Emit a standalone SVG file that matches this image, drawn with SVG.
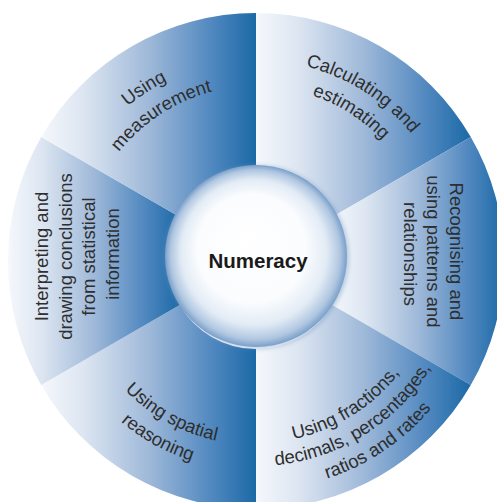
<svg xmlns="http://www.w3.org/2000/svg" width="497" height="502" viewBox="0 0 497 502">
  <defs>
    <!-- shared left-to-right shading used by every segment of the ring -->
    <linearGradient id="segFill" x1="0" y1="0" x2="1" y2="0">
      <stop offset="0" stop-color="#f5f8fc"/>
      <stop offset="0.2" stop-color="#dce5f1"/>
      <stop offset="0.5" stop-color="#9fb9d9"/>
      <stop offset="0.8" stop-color="#4f87bf"/>
      <stop offset="1" stop-color="#1b69a6"/>
    </linearGradient>
    <!-- glossy hub -->
    <radialGradient id="hubFill" cx="0.5" cy="0.5" r="0.5" fx="0.44" fy="0.4">
      <stop offset="0" stop-color="#ffffff"/>
      <stop offset="0.6" stop-color="#fafcfe"/>
      <stop offset="0.8" stop-color="#e2ebf5"/>
      <stop offset="0.93" stop-color="#b0c7e1"/>
      <stop offset="1" stop-color="#7a9fc9"/>
    </radialGradient>
    <filter id="hubGlow" x="-20%" y="-20%" width="140%" height="140%">
      <feGaussianBlur stdDeviation="2"/>
    </filter>
    <!-- arcs for curved labels; upper arcs run clockwise, lower arcs anticlockwise -->
    <path id="arcTop201" d="M 67.12,192.26 A 201 201 0 0 1 444.88,192.26"/>
    <path id="arcTop175" d="M 91.55,201.15 A 175 175 0 0 1 420.45,201.15"/>
    <path id="arcBot182" d="M 84.97,323.24 A 182 182 0 0 0 427.03,323.24"/>
    <path id="arcBot184" d="M 83.10,323.93 A 184 184 0 0 0 428.90,323.93"/>
    <path id="arcBot205" d="M 63.36,331.11 A 205 205 0 0 0 448.64,331.11"/>
    <path id="arcBot210" d="M 58.66,332.82 A 210 210 0 0 0 453.34,332.82"/>
    <path id="arcBot229" d="M 40.81,339.32 A 229 229 0 0 0 471.19,339.32"/>
  </defs>
  <style>
    .seg { fill: url(#segFill); }
    .lbl { font-family: "Liberation Sans", Arial, sans-serif; font-size: 18.5px; fill: #2e2e2e; }
    .hub-lbl { font-family: "Liberation Sans", Arial, sans-serif; font-size: 20.5px; font-weight: bold; fill: #1a1a1a; }
  </style>

  <rect width="497" height="502" fill="#ffffff"/>

  <!-- ring segments, centre (256,261), outer radius 248 -->
  <g id="calculating">
    <path class="seg" d="M 256,13 A 248 248 0 0 1 470.8,137 L 332.2,217 A 88 88 0 0 0 256,173 Z"/>
    <text class="lbl" transform="rotate(32.5 256 261)">
      <textPath href="#arcTop201" startOffset="50%" text-anchor="middle">Calculating and</textPath>
    </text>
    <text class="lbl" transform="rotate(32.5 256 261)">
      <textPath href="#arcTop175" startOffset="50%" text-anchor="middle">estimating</textPath>
    </text>
  </g>

  <g id="patterns">
    <path class="seg" d="M 470.8,137 A 248 248 0 0 1 470.8,385 L 332.2,305 A 88 88 0 0 0 332.2,217 Z"/>
    <text class="lbl" transform="translate(450 254) rotate(90)" text-anchor="middle">
      <tspan x="0" y="0">Recognising and</tspan>
      <tspan x="0" y="23">using patterns and</tspan>
      <tspan x="0" y="46">relationships</tspan>
    </text>
  </g>

  <g id="fractions">
    <path class="seg" d="M 470.8,385 A 248 248 0 0 1 256,509 L 256,349 A 88 88 0 0 0 332.2,305 Z"/>
    <text class="lbl" transform="rotate(-32 256 261)">
      <textPath href="#arcBot182" startOffset="50%" text-anchor="middle">Using fractions,</textPath>
    </text>
    <text class="lbl" transform="rotate(-32 256 261)">
      <textPath href="#arcBot205" startOffset="50%" text-anchor="middle">decimals, percentages,</textPath>
    </text>
    <text class="lbl" transform="rotate(-34 256 261)">
      <textPath href="#arcBot229" startOffset="50%" text-anchor="middle">ratios and rates</textPath>
    </text>
  </g>

  <g id="spatial">
    <path class="seg" d="M 256,509 A 248 248 0 0 1 41.2,385 L 179.8,305 A 88 88 0 0 0 256,349 Z"/>
    <text class="lbl" transform="rotate(29 256 261)">
      <textPath href="#arcBot184" startOffset="50%" text-anchor="middle">Using spatial</textPath>
    </text>
    <text class="lbl" transform="rotate(29 256 261)">
      <textPath href="#arcBot210" startOffset="50%" text-anchor="middle">reasoning</textPath>
    </text>
  </g>

  <g id="statistics">
    <path class="seg" d="M 41.2,385 A 248 248 0 0 1 41.2,137 L 179.8,217 A 88 88 0 0 0 179.8,305 Z"/>
    <text class="lbl" transform="translate(48 254) rotate(-90)" text-anchor="middle">
      <tspan x="0" y="0">Interpreting and</tspan>
      <tspan x="0" y="23.5">drawing conclusions</tspan>
      <tspan x="0" y="47">from statistical</tspan>
      <tspan x="0" y="70.5">information</tspan>
    </text>
  </g>

  <g id="measurement">
    <path class="seg" d="M 41.2,137 A 248 248 0 0 1 256,13 L 256,173 A 88 88 0 0 0 179.8,217 Z"/>
    <text class="lbl" transform="rotate(-33 256 261)">
      <textPath href="#arcTop201" startOffset="50%" text-anchor="middle">Using</textPath>
    </text>
    <text class="lbl" transform="rotate(-33 256 261)">
      <textPath href="#arcTop175" startOffset="50%" text-anchor="middle">measurement</textPath>
    </text>
  </g>

  <!-- central hub with a soft rim -->
  <g id="numeracy">
    <circle cx="257" cy="257" r="92" fill="#6f97c4" opacity="0.45" filter="url(#hubGlow)"/>
    <circle cx="256" cy="256" r="91" fill="url(#hubFill)"/>
    <text class="hub-lbl" x="258" y="268" text-anchor="middle">Numeracy</text>
  </g>
</svg>
